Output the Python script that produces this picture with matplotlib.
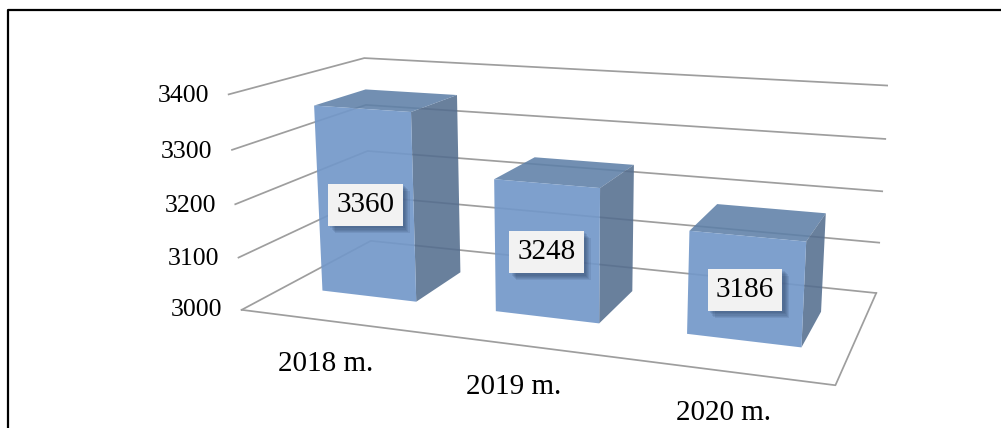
import numpy as np
import matplotlib
matplotlib.use('Agg')
import matplotlib.pyplot as plt
from matplotlib.lines import Line2D
import matplotlib.patheffects as pe

years = ['2018 m.', '2019 m.', '2020 m.']
values = [3360, 3248, 3186]
ticks = [3000, 3100, 3200, 3300, 3400]

plt.rcParams['font.family'] = ['Liberation Serif', 'DejaVu Serif']

fig = plt.figure(figsize=(10.01, 4.28), dpi=100)
ax = fig.add_axes([0.2238, -0.2590, 0.6638, 1.5525], projection='3d')
ax.computed_zorder = False
ax.set_xlim(0, 3, view_margin=0)
ax.set_ylim(0, 1, view_margin=0)
ax.set_zlim(3000, 3400, view_margin=0)
ax.view_init(13.7663, -70.0745, -0.0152)
ax.set_proj_type('persp', focal_length=0.3714)
ax.set_box_aspect((1, 0.4621, 0.3693))
ax.set_axis_off()

grid = '#9e9e9e'
lw = 1.25

# left and back walls
for z in ticks:
    ax.plot([0, 0, 3], [0, 1, 1], [z, z, z], color=grid, lw=lw, zorder=1)
# front and right edge of the floor
ax.plot([0, 3, 3], [0, 0, 1], [3000, 3000, 3000], color=grid, lw=lw, zorder=1)

# bars, faces in bar3d order: -z, +z, -y, +y, -x, +x
bar_w = 0.5528
y0, y1 = 0.3049, 0.7052
none = (0, 0, 0, 0)
faces = [none, (0.37, 0.50, 0.66, 0.88), (0.45, 0.595, 0.79, 0.92), none, none, (0.33, 0.43, 0.56, 0.88)]
for i, v in enumerate(values):
    ax.bar3d(i + (1 - bar_w) / 2, y0, 3000, bar_w, y1 - y0, v - 3000,
             color=faces, shade=False, edgecolor='none', linewidth=0, zorder=3 + i)

# data labels with a soft shadow
shadow = [pe.SimplePatchShadow(offset=(o, -o), shadow_rgbFace='#1f2f4f', alpha=0.11) for o in (5, 4, 3.2, 2.4, 1.6)]
shadow.append(pe.Normal())
for i, v in enumerate(values):
    t = ax.text(i + 0.5, y0, (3000 + v) / 2 - 2, str(v), fontsize=21, color='black', ha='center', va='center',
                zorder=10, bbox=dict(boxstyle='square,pad=0.28', fc='#f2f2f2', ec='none'))
    t.get_bbox_patch().set_path_effects(shadow)

# axis labels
for z in ticks:
    ax.text(-0.115, 0, z - 6, str(z), fontsize=18.5, color='black', ha='right', va='center', zorder=10)
for i, name in enumerate(years):
    ax.text(0.64 + 0.965 * i, -0.2, 2960 + 5 * i, name, fontsize=21, color='black', ha='center', va='center', zorder=10)

# page frame around the chart
fig.add_artist(Line2D([8 / 1001, 8 / 1001, 1], [0, 418 / 428, 418 / 428], color='black', lw=1.6))

fig.savefig('out.png', dpi=100)
